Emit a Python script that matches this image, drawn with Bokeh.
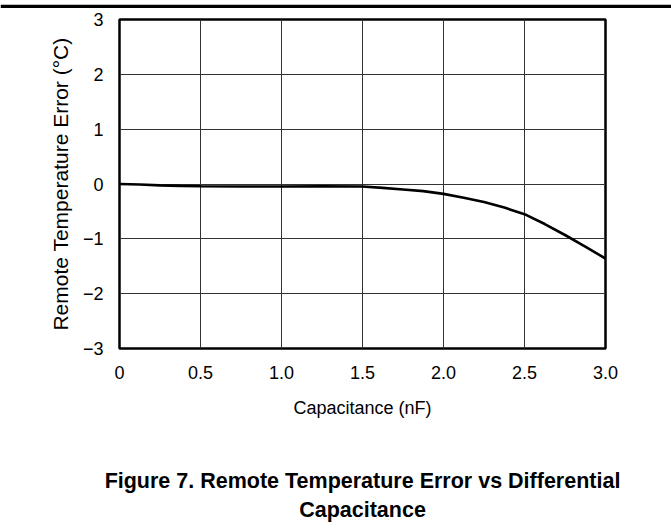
from bokeh.plotting import figure
from bokeh.models import Range1d, FixedTicker, Title
from bokeh.layouts import column
from bokeh.embed import file_html
from bokeh.resources import INLINE

# Data
cap_nf = [0.0, 0.125, 0.25, 0.375, 0.5, 0.75, 1.0, 1.25, 1.5, 1.625, 1.75, 1.875,
          2.0, 2.125, 2.25, 2.375, 2.5, 2.625, 2.75, 2.875, 3.0]
temp_err = [0.0, -0.01, -0.025, -0.035, -0.04, -0.045, -0.045, -0.04, -0.045, -0.07, -0.10, -0.13,
            -0.18, -0.25, -0.33, -0.43, -0.55, -0.73, -0.93, -1.14, -1.36]

x_ticks = [0, 0.5, 1.0, 1.5, 2.0, 2.5, 3.0]
x_tick_labels = ["0", "0.5", "1.0", "1.5", "2.0", "2.5", "3.0"]
y_ticks = [-3, -2, -1, 0, 1, 2, 3]
y_tick_labels = ["\u22123", "\u22122", "\u22121", "0", "1", "2", "3"]

title_line1 = "Figure 7. Remote Temperature Error vs Differential"
title_line2 = "Capacitance"

FONT = "Liberation Sans"

# thin rule across the top of the page
top = figure(width=671, height=8, output_backend="svg", toolbar_location=None,
             x_range=Range1d(0, 1), y_range=Range1d(0, 1),
             x_axis_location=None, y_axis_location=None,
             min_border_top=4, min_border_bottom=2, min_border_left=0, min_border_right=0)
top.grid.visible = False
top.outline_line_color = None
top.background_fill_color = "black"
top.border_fill_color = "black"

p = figure(width=671, height=521, output_backend="svg", toolbar_location=None,
           x_range=Range1d(0, 3), y_range=Range1d(-3, 3))
p.min_border_left = 119
p.min_border_right = 66
p.min_border_top = 11
p.min_border_bottom = 181

p.line(cap_nf, temp_err, line_color="black", line_width=2.6)

p.xaxis.ticker = FixedTicker(ticks=x_ticks)
p.yaxis.ticker = FixedTicker(ticks=y_ticks)
p.xaxis.major_label_overrides = {t: l for t, l in zip(x_ticks, x_tick_labels)}
p.yaxis.major_label_overrides = {t: l for t, l in zip(y_ticks, y_tick_labels)}

for ax in (p.xaxis, p.yaxis):
    ax.axis_line_color = None
    ax.major_tick_line_color = None
    ax.minor_tick_line_color = None
    ax.major_tick_out = 0
    ax.major_tick_in = 0
    ax.major_label_text_font = FONT
    ax.major_label_text_font_size = "18px"
    ax.major_label_text_color = "black"
    ax.axis_label_text_font = FONT
    ax.axis_label_text_font_style = "normal"
    ax.axis_label_text_color = "black"

p.xaxis.axis_label = "Capacitance (nF)"
p.yaxis.axis_label = "Remote Temperature Error (\u00b0C)"
p.xaxis.axis_label_text_font_size = "18px"
p.yaxis.axis_label_text_font_size = "21px"
p.xaxis.major_label_standoff = 17
p.yaxis.major_label_standoff = 16
p.xaxis.axis_label_standoff = 16
p.yaxis.axis_label_standoff = 8

p.xgrid.grid_line_color = "#333333"
p.ygrid.grid_line_color = "#333333"
p.xgrid.grid_line_width = 1
p.ygrid.grid_line_width = 1

p.outline_line_color = "black"
p.outline_line_width = 2.5
p.outline_line_alpha = 1
p.background_fill_color = "white"
p.border_fill_color = "white"

spacer = Title(text=" ", text_font_size="1px", text_color="white", standoff=40)
t1 = Title(text=title_line1, align="center", text_font=FONT, text_font_style="bold",
           text_font_size="21.5px", text_color="black", standoff=6)
t2 = Title(text=title_line2, align="center", text_font=FONT, text_font_style="bold",
           text_font_size="21.5px", text_color="black", standoff=0)
p.add_layout(spacer, "below")
p.add_layout(t1, "below")
p.add_layout(t2, "below")

layout = column(top, p, spacing=0)
open("out.html", "w").write(file_html(layout, INLINE))
